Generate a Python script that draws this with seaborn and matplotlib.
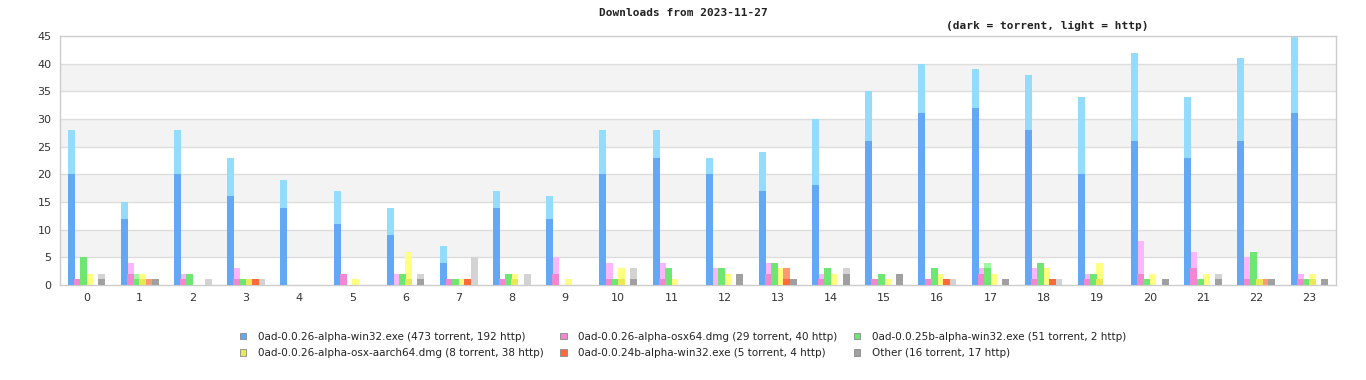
import matplotlib
matplotlib.use('Agg')
import matplotlib.pyplot as plt
from matplotlib.patches import Patch
import seaborn as sns
import pandas as pd

hours = list(range(24))

files = ["0ad-0.0.26-alpha-win32.exe", "0ad-0.0.26-alpha-osx64.dmg", "0ad-0.0.25b-alpha-win32.exe",
         "0ad-0.0.26-alpha-osx-aarch64.dmg", "0ad-0.0.24b-alpha-win32.exe", "Other"]

# torrent (dark) and http (light) downloads per hour
win32_torrent = [20, 12, 20, 16, 14, 11, 9, 4, 14, 12, 20, 23, 20, 17, 18, 26, 31, 32, 28, 20, 26, 23, 26, 31]
win32_http = [8, 3, 8, 7, 5, 6, 5, 3, 3, 4, 8, 5, 3, 7, 12, 9, 9, 7, 10, 14, 16, 11, 15, 14]
osx64_torrent = [1, 2, 1, 1, 0, 2, 0, 1, 1, 2, 1, 1, 0, 2, 1, 1, 1, 2, 1, 1, 2, 3, 1, 1]
osx64_http = [0, 2, 1, 2, 0, 0, 2, 0, 0, 3, 3, 3, 3, 2, 1, 0, 0, 1, 2, 1, 6, 3, 4, 1]
w25b_torrent = [5, 1, 2, 1, 0, 0, 2, 1, 2, 0, 1, 3, 3, 4, 3, 2, 3, 3, 4, 2, 1, 1, 6, 1]
w25b_http = [0, 1, 0, 0, 0, 0, 0, 0, 0, 0, 0, 0, 0, 0, 0, 0, 0, 1, 0, 0, 0, 0, 0, 0]
aarch_torrent = [0, 1, 0, 1, 0, 0, 1, 0, 1, 0, 1, 0, 0, 0, 0, 0, 0, 0, 0, 1, 0, 0, 1, 1]
aarch_http = [2, 1, 0, 0, 0, 1, 5, 1, 1, 1, 2, 1, 2, 3, 2, 1, 2, 2, 3, 3, 2, 2, 0, 1]
w24b_torrent = [0, 0, 0, 1, 0, 0, 0, 1, 0, 0, 0, 0, 0, 1, 0, 0, 1, 0, 1, 0, 0, 0, 0, 0]
w24b_http = [0, 1, 0, 0, 0, 0, 0, 0, 0, 0, 0, 0, 0, 2, 0, 0, 0, 0, 0, 0, 0, 0, 1, 0]
other_torrent = [1, 1, 0, 0, 0, 0, 1, 0, 0, 0, 1, 0, 2, 1, 2, 2, 0, 1, 0, 0, 1, 1, 1, 1]
other_http = [1, 0, 1, 1, 0, 0, 1, 5, 2, 0, 2, 0, 0, 0, 1, 0, 1, 0, 1, 0, 0, 1, 0, 0]

torrents = [win32_torrent, osx64_torrent, w25b_torrent, aarch_torrent, w24b_torrent, other_torrent]
https = [win32_http, osx64_http, w25b_http, aarch_http, w24b_http, other_http]

dark = ["#62a8f4", "#f386d0", "#6ee672", "#e9e956", "#ff6a3a", "#a0a0a0"]
light = ["#94dcfd", "#fdb6fb", "#a0f8a0", "#ffff80", "#ff9a70", "#d3d3d3"]

rows = []
for f, t, h in zip(files, torrents, https):
    for hr in hours:
        rows.append({'hour': hr, 'file': f, 'torrent': t[hr], 'total': t[hr] + h[hr]})
df = pd.DataFrame(rows)

sns.set_style("white")
plt.rcParams['font.family'] = ['DejaVu Sans']

fig = plt.figure(figsize=(13.66, 3.8), dpi=100)
ax = fig.add_axes([60 / 1366, 95 / 380, 1276 / 1366, 249 / 380])

# alternating background bands
for lo in [5, 15, 25, 35]:
    ax.axhspan(lo, lo + 5, color="#f3f3f3", zorder=0, lw=0)
for y in range(5, 45, 5):
    ax.axhline(y, color="#dddddd", lw=1, zorder=0.5)

sns.barplot(data=df, x='hour', y='total', hue='file', hue_order=files, palette=light,
            width=0.69, gap=-0.15, saturation=1, errorbar=None, linewidth=0, legend=False, ax=ax, zorder=2)
sns.barplot(data=df, x='hour', y='torrent', hue='file', hue_order=files, palette=dark,
            width=0.69, gap=-0.15, saturation=1, errorbar=None, linewidth=0, legend=False, ax=ax, zorder=3)

ax.set_xlim(-0.5, 23.5)
ax.set_ylim(0, 45)
ax.set_yticks(range(0, 46, 5))
ax.set_xlabel('')
ax.set_ylabel('')
ax.tick_params(length=0, labelsize=8, colors="#333333", pad=6)
for s in ax.spines.values():
    s.set_color("#cccccc")
    s.set_linewidth(1)

fig.text(0.5, 1 - 13 / 380, "Downloads from 2023-11-27", ha='center', va='center',
         family='DejaVu Sans Mono', fontsize=8, weight='bold', color="#222222")
fig.text(1047 / 1366, 1 - 26 / 380, "(dark = torrent, light = http)", ha='center', va='center',
         family='DejaVu Sans Mono', fontsize=8, weight='bold', color="#222222")

labels = ["0ad-0.0.26-alpha-win32.exe (473 torrent, 192 http)",
          "0ad-0.0.26-alpha-osx64.dmg (29 torrent, 40 http)",
          "0ad-0.0.25b-alpha-win32.exe (51 torrent, 2 http)",
          "0ad-0.0.26-alpha-osx-aarch64.dmg (8 torrent, 38 http)",
          "0ad-0.0.24b-alpha-win32.exe (5 torrent, 4 http)",
          "Other (16 torrent, 17 http)"]
handles = [Patch(facecolor=c, edgecolor="#888888", lw=0.6) for c in dark]
order = [0, 3, 1, 4, 2, 5]
fig.legend([handles[i] for i in order], [labels[i] for i in order], ncol=3,
           loc='center', bbox_to_anchor=(0.5, 1 - 345 / 380), frameon=False,
           fontsize=7.5, handlelength=0.6, handleheight=0.6, handletextpad=1.1,
           columnspacing=1.6, labelspacing=0.65, labelcolor="#222222")

fig.savefig("out.png", dpi=100)
